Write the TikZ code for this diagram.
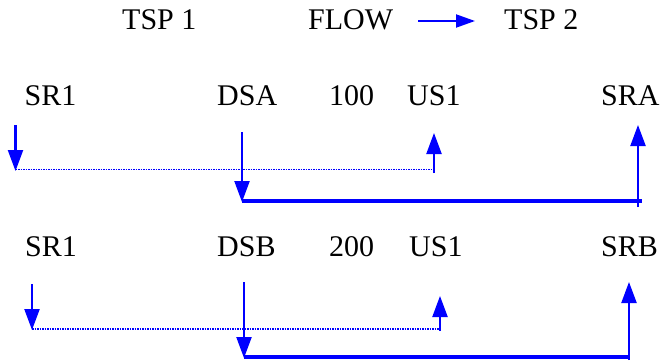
\documentclass[tikz,border=0pt]{standalone}
\usepackage{fontspec}
\setmainfont{Liberation Serif}
\newfontfamily\timesfont{Liberation Serif}
\usetikzlibrary{arrows.meta}
\begin{document}
\begin{tikzpicture}[x=1pt,y=-1pt,
  lbl/.style={anchor=base west,inner sep=0pt,font=\timesfont\fontsize{30}{36}\selectfont},
  flowarrow/.style={draw=blue,line width=2.2pt,-{Triangle[length=21pt,width=15pt]}},
  smallarrow/.style={draw=blue,line width=2pt,-{Triangle[length=19pt,width=13pt]}},
  dotline/.style={draw=blue,line width=1.2pt,dash pattern=on 1.6pt off 0.9pt},
  thickline/.style={draw=blue,line width=3.8pt},
]
\useasboundingbox (0,0) rectangle (662,364);
% header
\node[lbl] (tsp1) at (122,29) {TSP 1};
\node[lbl] (flow) at (308,29) {FLOW};
\node[lbl] (tsp2) at (504,29) {TSP 2};
\coordinate (fs) at (418,21);
\coordinate (fe) at (475,21);
\draw[smallarrow] (fs) -- (fe);
% row A labels
\node[lbl] (sr1a) at (24.5,105) {SR1};
\node[lbl] (dsa) at (217,105) {DSA};
\node[lbl] (n100) at (329,105) {100};
\node[lbl] (us1a) at (407,105) {US1};
\node[lbl] (sra) at (601,105) {SRA};
% row A connectors
\coordinate (a1s) at (15.5,125);
\coordinate (a1e) at (15.5,171);
\coordinate (d1s) at (15.5,169.5);
\coordinate (d1e) at (434,169.5);
\coordinate (u1s) at (434,173);
\coordinate (u1e) at (434,133);
\coordinate (dsas) at (242,132);
\coordinate (dsae) at (242,202);
\coordinate (t1s) at (242,201);
\coordinate (t1e) at (642,201);
\coordinate (sras) at (638,207);
\coordinate (srae) at (638,125);
\draw[dotline] (d1s) -- (d1e);
\draw[thickline] (t1s) -- (t1e);
\draw[flowarrow] (a1s) -- (a1e);
\draw[flowarrow] (u1s) -- (u1e);
\draw[flowarrow] (dsas) -- (dsae);
\draw[flowarrow] (sras) -- (srae);
% row B labels
\node[lbl] (sr1b) at (25,256) {SR1};
\node[lbl] (dsb) at (217,256) {DSB};
\node[lbl] (n200) at (329,256) {200};
\node[lbl] (us1b) at (409,256) {US1};
\node[lbl] (srb) at (601,256) {SRB};
% row B connectors
\coordinate (a2s) at (32,284);
\coordinate (a2e) at (32,330);
\coordinate (d2s) at (32,329);
\coordinate (d2e) at (440,329);
\coordinate (u2s) at (440,331);
\coordinate (u2e) at (440,296);
\coordinate (dsbs) at (244,282);
\coordinate (dsbe) at (244,358);
\coordinate (t2s) at (244,357);
\coordinate (t2e) at (628,357);
\coordinate (srbs) at (629,360);
\coordinate (srbe) at (629,282);
\draw[dotline] (d2s) -- (d2e);
\draw[thickline] (t2s) -- (t2e);
\draw[flowarrow] (a2s) -- (a2e);
\draw[flowarrow] (u2s) -- (u2e);
\draw[flowarrow] (dsbs) -- (dsbe);
\draw[flowarrow] (srbs) -- (srbe);
\end{tikzpicture}
\end{document}
